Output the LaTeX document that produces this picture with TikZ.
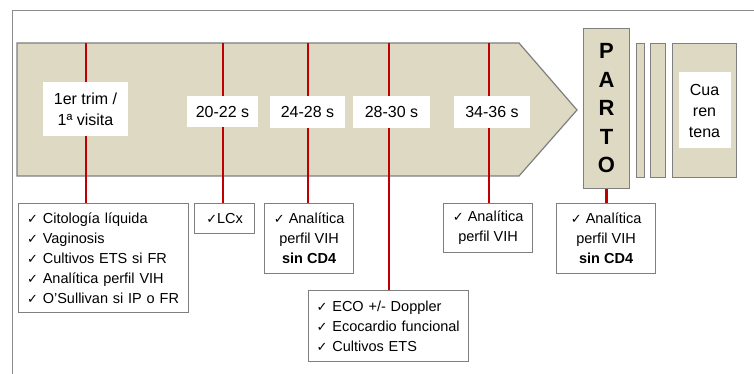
\documentclass[tikz,border=0pt]{standalone}
\usepackage{fontspec}
\setmainfont{Liberation Sans}
\newfontfamily\chkfont{DejaVu Sans}
\usepackage{tikz}
\usetikzlibrary{positioning, calc}
\definecolor{bandfill}{HTML}{DDD9C3}
\definecolor{edgegray}{HTML}{7F7F7F}
\definecolor{linered}{HTML}{C00000}
\definecolor{framegray}{HTML}{8C8C8C}
\newcommand{\ck}{{\chkfont\fontsize{13}{20}\selectfont ✓}}
\tikzstyle{weekbox} = [rectangle, fill=white, inner sep=0pt, align=center, font=\fontsize{16}{21}\selectfont]
\tikzstyle{listbox} = [rectangle, draw=edgegray, fill=white, line width=1.2pt, anchor=north west,
  inner xsep=8pt, inner ysep=2pt, font=\fontsize{14.5}{20}\selectfont]
\tikzstyle{stagebox} = [rectangle, draw=edgegray, fill=bandfill, line width=1pt, anchor=north west, inner sep=0pt]
\tikzstyle{redline} = [linered, line width=2.2pt]

\begin{document}
\begin{tikzpicture}[x=1pt, y=-1pt]
  \useasboundingbox (0,0) rectangle (754,374);
  \draw[framegray, line width=0.8pt] (12,374) -- (12,10) -- (754,10);

  % time band
  \draw[draw=edgegray, fill=bandfill, line width=1.2pt]
    (17,43) -- (519,43) -- (577,110) -- (519,176) -- (17,176) -- cycle;

  % stages after the band
  \node (parto) [stagebox, minimum width=46, minimum height=160, align=center,
    font=\bfseries\fontsize{22}{28.5}\selectfont] at (583,28) {P\\A\\R\\T\\O};
  \node (bar1) [stagebox, minimum width=8, minimum height=134] at (636,43) {};
  \node (bar2) [stagebox, minimum width=15, minimum height=134] at (650,43) {};
  \node (cuar) [stagebox, minimum width=64, minimum height=134] at (672,43) {};
  \node (cuartxt) [weekbox, minimum width=52, minimum height=76] at (cuar.center) {Cua\\ren\\tena};

  % boxes with the tests
  \node (b1) [listbox, minimum width=170, minimum height=109, text width=153pt, align=left] at (18,203)
    {\ck\ Citología líquida\\\ck\ Vaginosis\\\ck\ Cultivos ETS si FR\\\ck\ Analítica perfil VIH\\\ck\ O'Sullivan si IP o FR};
  \node (b2) [listbox, minimum width=60, minimum height=30] at (194,203) {\ck LCx};
  \node (b3) [listbox, minimum width=89, minimum height=70, align=center] at (264,203)
    {\ck\ Analítica\\perfil VIH\\\textbf{sin CD4}};
  \node (b4) [listbox, minimum width=160, minimum height=71, text width=144pt, align=left] at (308,290)
    {\ck\ ECO +/- Doppler\\\ck\ Ecocardio funcional\\\ck\ Cultivos ETS};
  \node (b5) [listbox, minimum width=89, minimum height=49, align=center] at (443,203)
    {\ck\ Analítica\\perfil VIH};
  \node (b6) [listbox, minimum width=99, minimum height=70, align=center] at (556,203)
    {\ck\ Analítica\\perfil VIH\\\textbf{sin CD4}};

  % red marks on the band
  \coordinate (t1) at (86,43);
  \coordinate (t2) at (223,43);
  \coordinate (t3) at (308,43);
  \coordinate (t4) at (389,43);
  \coordinate (t5) at (489,43);
  \draw[redline] (t1) -- (t1 |- b1.north);
  \draw[redline] (t2) -- (t2 |- b2.north);
  \draw[redline] (t3) -- (t3 |- b3.north);
  \draw[redline] (t4) -- (t4 |- b4.north);
  \draw[redline] (t5) -- (t5 |- b5.north);
  \draw[redline] (parto.south) -- (parto.south |- b6.north);

  % week labels
  \node (w1) [weekbox, minimum width=85, minimum height=54] at (85.5,109) {1er trim /\\1ª visita};
  \node (w2) [weekbox, minimum width=71, minimum height=31] at (222.5,112) {20-22 s};
  \node (w3) [weekbox, minimum width=75, minimum height=32] at (307.5,112) {24-28 s};
  \node (w4) [weekbox, minimum width=77, minimum height=32] at (391.5,112) {28-30 s};
  \node (w5) [weekbox, minimum width=76, minimum height=32] at (492,112) {34-36 s};
\end{tikzpicture}
\end{document}
